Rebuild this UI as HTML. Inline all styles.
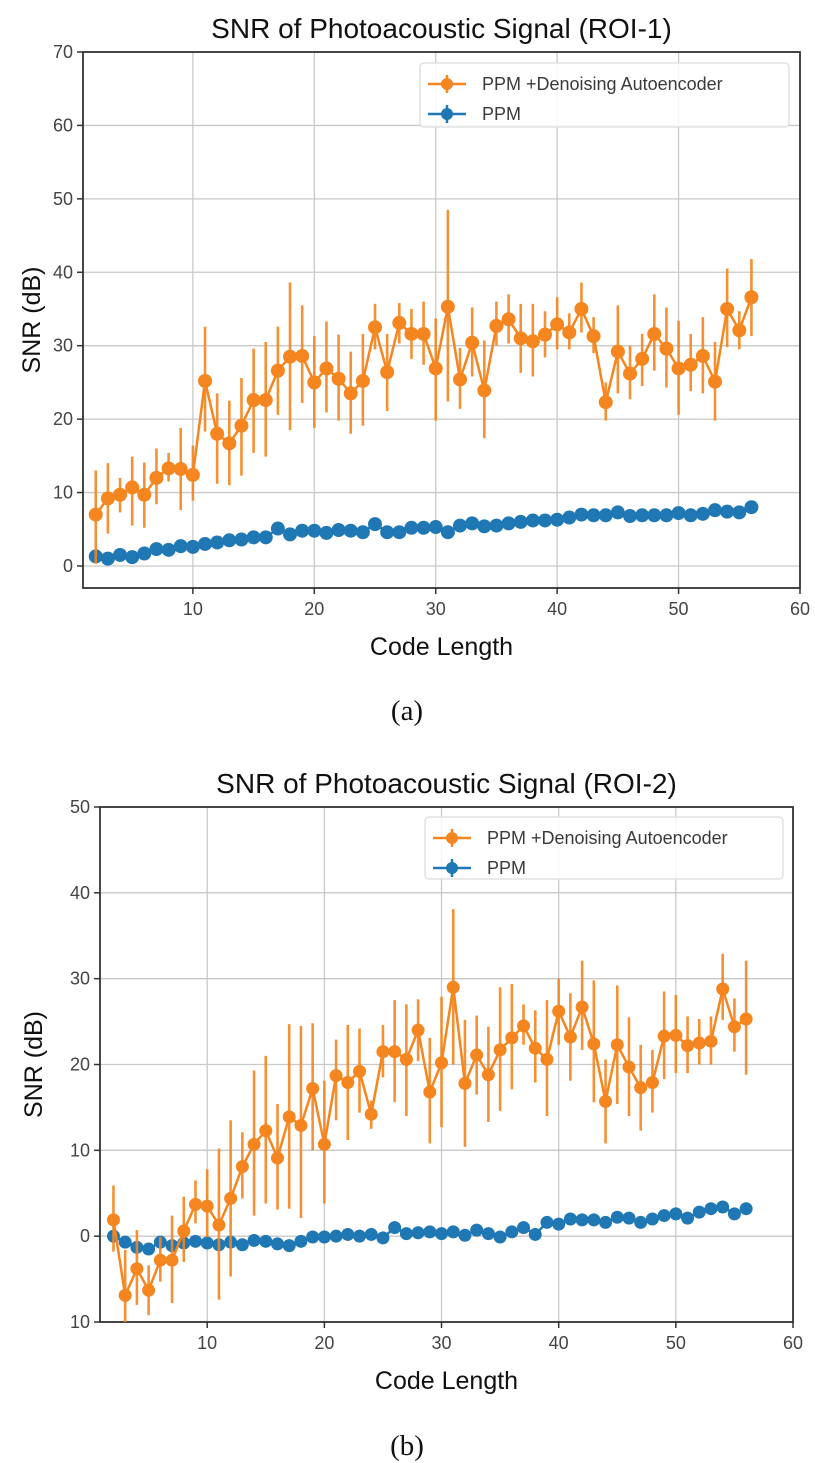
<!DOCTYPE html>
<html><head><meta charset="utf-8">
<style>
html,body{margin:0;padding:0;background:#fff;}
svg{display:block;font-family:"Liberation Sans",sans-serif;}
</style></head>
<body>
<svg id="fig" width="815" height="1463" viewBox="0 0 815 1463" xmlns="http://www.w3.org/2000/svg"></svg>
<script>
// ---------- Chart (a) data ----------
const codeLenA = [2,3,4,5,6,7,8,9,10,11,12,13,14,15,16,17,18,19,20,21,22,23,24,25,26,27,28,29,30,31,32,33,34,35,36,37,38,39,40,41,42,43,44,45,46,47,48,49,50,51,52,53,54,55,56];
const daeA = [7.0,9.2,9.7,10.7,9.7,12.0,13.3,13.2,12.4,25.2,18.0,16.7,19.1,22.6,22.6,26.6,28.5,28.6,25.0,26.9,25.5,23.5,25.2,32.5,26.4,33.1,31.6,31.6,26.9,35.3,25.4,30.4,23.9,32.7,33.6,31.0,30.6,31.5,32.9,31.8,35.0,31.3,22.3,29.2,26.2,28.2,31.6,29.6,26.9,27.4,28.6,25.1,35.0,32.1,36.6];
const daeHiA = [13,14,12,14.9,14.1,16,15.4,18.8,16.4,32.6,23.5,22.5,25.6,29.6,30.5,32.6,38.6,35.5,31.3,33.3,31.5,29.2,31.6,35.7,31.6,35.8,35,36,33.7,48.5,29.7,35.2,30.7,36,37.0,35.7,35.7,34.7,36.6,34.4,38.6,33.9,25,35.5,30,31.6,37,35.2,33.4,31.6,33.9,30.5,40.5,34.7,41.8];
const daeLoA = [0.3,4.4,7.3,5.5,5.2,8.4,11.5,7.6,8.9,18.3,11.2,11,12.3,15.4,14.9,20.6,18.5,22.2,18.8,20.9,19.8,18.0,19.1,29.5,21.1,30.3,28.2,27.4,19.8,22.4,21.4,25.8,17.4,30,30.3,26.3,25.8,28.4,29.5,29.5,31.8,29,19.8,23.5,22.7,24.5,26.6,24.3,20.6,23.8,23.5,19.8,29.8,29.5,31.3];
const ppmA = [1.3,1.0,1.5,1.2,1.7,2.3,2.2,2.7,2.6,3.0,3.2,3.5,3.6,3.9,3.9,5.1,4.3,4.8,4.8,4.5,4.9,4.8,4.6,5.7,4.6,4.6,5.2,5.2,5.3,4.6,5.5,5.8,5.4,5.5,5.8,6.0,6.2,6.2,6.3,6.6,7.0,6.9,6.9,7.3,6.8,6.9,6.9,6.9,7.2,6.9,7.1,7.6,7.4,7.3,8.0];
const yTicksA = [0,10,20,30,40,50,60,70];
const xTicksA = [10,20,30,40,50,60];

// ---------- Chart (b) data ----------
const codeLenB = [2,3,4,5,6,7,8,9,10,11,12,13,14,15,16,17,18,19,20,21,22,23,24,25,26,27,28,29,30,31,32,33,34,35,36,37,38,39,40,41,42,43,44,45,46,47,48,49,50,51,52,53,54,55,56];
const daeB = [1.9,-6.9,-3.8,-6.3,-2.8,-2.8,0.6,3.7,3.5,1.3,4.4,8.1,10.7,12.3,9.1,13.9,12.9,17.2,10.7,18.7,17.9,19.2,14.2,21.5,21.5,20.6,24.0,16.8,20.2,29.0,17.8,21.1,18.8,21.7,23.1,24.5,21.9,20.6,26.2,23.2,26.7,22.4,15.7,22.3,19.7,17.3,17.9,23.3,23.4,22.2,22.5,22.7,28.8,24.4,25.3];
const daeHiB = [5.9,-1.6,0.7,-3.4,-0.1,2.4,4.6,6.5,7.8,10.2,13.5,12.1,19.3,21,15.4,24.7,24.5,24.8,18.1,22.9,24.6,24.2,15.8,24.6,27.5,27,27.6,23.1,27.9,38.1,25.2,25.7,24.4,29,29.4,27,26.3,27.5,30,28.3,32.1,29.8,20.6,29.2,25.5,22.3,21.7,28.5,28.1,25.6,25.3,25.6,32.9,27.7,32.1];
const daeLoB = [-1.8,-10,-8,-9.2,-5.3,-7.8,-3,1.5,-0.1,-7.4,-4.7,4.4,2.4,3.8,3.1,3.2,2.1,10,3.8,13.5,11.2,14.4,12.5,18.5,15.6,14,20.4,10.8,12.7,20,10.4,16.5,13.3,14.6,17.1,22.3,17.9,14.0,22.3,18.1,21.7,15.6,10.8,15.4,14.0,12.3,14.4,18.3,19.0,19.0,20,20,25.2,21.5,18.8];
const ppmB = [0.0,-0.7,-1.3,-1.5,-0.7,-1.1,-0.8,-0.6,-0.8,-1.0,-0.7,-1.0,-0.5,-0.6,-0.9,-1.1,-0.6,-0.1,-0.1,0.0,0.2,0.0,0.2,-0.2,1.0,0.3,0.4,0.5,0.3,0.5,0.1,0.7,0.3,-0.1,0.5,1.0,0.2,1.6,1.4,2.0,1.9,1.9,1.6,2.2,2.1,1.6,2.0,2.4,2.6,2.1,2.8,3.2,3.4,2.6,3.2];
const yTicksB = [-10,0,10,20,30,40,50];
const yTickLabelsB = ["10","0","10","20","30","40","50"];
const xTicksB = [10,20,30,40,50,60];

const NS = "http://www.w3.org/2000/svg";
const svg = document.getElementById('fig');
const ORANGE = "#f5851f", BLUE = "#1f77b4";

function mk(tag, attrs, parent){
  const e = document.createElementNS(NS, tag);
  for (const k in attrs) e.setAttribute(k, attrs[k]);
  (parent||svg).appendChild(e);
  return e;
}

function drawChart(cfg){
  const g = mk('g', {});
  
  
  const sx = v => cfg.left + (v - cfg.xmin) / (cfg.xmax - cfg.xmin) * (cfg.right - cfg.left);
  const sy = v => cfg.bottom - (v - cfg.ymin) / (cfg.ymax - cfg.ymin) * (cfg.bottom - cfg.top);
  const clipId = cfg.name + '-clip';
  const cp = mk('clipPath', {id: clipId}, g);
  mk('rect', {x: cfg.left, y: cfg.top, width: cfg.right - cfg.left, height: cfg.bottom - cfg.top}, cp);
  cfg.xTicks.forEach(t => {
    const l = mk('line', {x1: sx(t), x2: sx(t), y1: cfg.top, y2: cfg.bottom, stroke: "#c9c9c9", 'stroke-width': 1.3}, g);
    
    
    const tx = mk('text', {x: sx(t), y: cfg.bottom + 27, 'text-anchor': 'middle', 'font-size': 18, fill: '#444'}, g);
    tx.textContent = t;
    
    
  });
  cfg.yTicks.forEach((t, i) => {
    const l = mk('line', {x1: cfg.left, x2: cfg.right, y1: sy(t), y2: sy(t), stroke: "#c9c9c9", 'stroke-width': 1.3}, g);
    
    
    mk('line', {x1: cfg.left - 6, x2: cfg.left, y1: sy(t), y2: sy(t), stroke: '#333', 'stroke-width': 1.5}, g);
    const tx = mk('text', {x: cfg.left - 10, y: sy(t) + 6, 'text-anchor': 'end', 'font-size': 18, fill: '#444'}, g);
    tx.textContent = cfg.yLabels ? cfg.yLabels[i] : t;
    
    
  });
  cfg.xTicks.forEach(t => mk('line', {x1: sx(t), x2: sx(t), y1: cfg.bottom, y2: cfg.bottom + 6, stroke: '#333', 'stroke-width': 1.5}, g));
  const frame = mk('rect', {x: cfg.left, y: cfg.top, width: cfg.right - cfg.left, height: cfg.bottom - cfg.top, fill: 'none', stroke: '#333', 'stroke-width': 1.8}, g);
  
  

  const dg = mk('g', {'clip-path': 'url(#' + clipId + ')'}, g);
  const bpts = cfg.x.map((xv, i) => sx(xv) + ',' + sy(cfg.ppm[i])).join(' ');
  const bl = mk('polyline', {points: bpts, fill: 'none', stroke: BLUE, 'stroke-width': 2.5}, dg);
  
  
  cfg.x.forEach((xv, i) => {
    const c = mk('circle', {cx: sx(xv), cy: sy(cfg.ppm[i]), r: cfg.r, fill: BLUE}, dg);
    
    
  });
  cfg.x.forEach((xv, i) => {
    const e = mk('line', {x1: sx(xv), x2: sx(xv), y1: sy(cfg.hi[i]), y2: sy(cfg.lo[i]), stroke: ORANGE, 'stroke-width': 2.6, opacity: 0.9}, dg);
    
    
  });
  const opts = cfg.x.map((xv, i) => sx(xv) + ',' + sy(cfg.dae[i])).join(' ');
  const ol = mk('polyline', {points: opts, fill: 'none', stroke: ORANGE, 'stroke-width': 2.5}, dg);
  
  
  cfg.x.forEach((xv, i) => {
    const c = mk('circle', {cx: sx(xv), cy: sy(cfg.dae[i]), r: cfg.r, fill: ORANGE}, dg);
    
    
  });

  const lg = mk('g', {}, g);
  
  
  const L = cfg.legend;
  mk('rect', {x: L.x, y: L.y, width: L.w, height: L.h, rx: 4, fill: '#fff', 'fill-opacity': 0.85, stroke: '#dcdcdc', 'stroke-width': 1.3}, lg);
  [[ORANGE, 'PPM +Denoising Autoencoder', 'legend-entry-dae'], [BLUE, 'PPM', 'legend-entry-ppm']].forEach((en, k) => {
    const yy = L.y + 21 + k * 30;
    const eg = mk('g', {}, lg);
    
    
    mk('line', {x1: L.x + 8, x2: L.x + 46, y1: yy, y2: yy, stroke: en[0], 'stroke-width': 2.5}, eg);
    mk('line', {x1: L.x + 27, x2: L.x + 27, y1: yy - 9, y2: yy + 9, stroke: en[0], 'stroke-width': 2.5}, eg);
    mk('circle', {cx: L.x + 27, cy: yy, r: 6, fill: en[0]}, eg);
    const t = mk('text', {x: L.x + 62, y: yy + 6, 'font-size': 18, fill: '#3a3a3a'}, eg);
    t.textContent = en[1];
  });

  const tt = mk('text', {x: (cfg.left + cfg.right) / 2, y: cfg.top - 14, 'text-anchor': 'middle', 'font-size': 28, fill: '#111'}, g);
  tt.textContent = cfg.title;
  
  
  const xl = mk('text', {x: (cfg.left + cfg.right) / 2, y: cfg.bottom + 67, 'text-anchor': 'middle', 'font-size': 25, fill: '#111'}, g);
  xl.textContent = 'Code Length';
  
  
  const yc = (cfg.top + cfg.bottom) / 2;
  const yl = mk('text', {x: 0, y: 0, 'text-anchor': 'middle', 'font-size': 25, fill: '#111', transform: 'translate(' + cfg.yTitleX + ',' + yc + ') rotate(-90)'}, g);
  yl.textContent = 'SNR (dB)';
  
  
  const cap = mk('text', {x: 407, y: cfg.capY, 'text-anchor': 'middle', 'font-size': 29, fill: '#111', 'font-family': '"Liberation Serif", serif'}, g);
  cap.textContent = cfg.caption;
  
  
}

drawChart({name: 'chart-roi-1', left: 83, right: 800, top: 52, bottom: 588, xmin: 0.95, xmax: 60, ymin: -3, ymax: 70,
  xTicks: xTicksA, yTicks: yTicksA, x: codeLenA, dae: daeA, hi: daeHiA, lo: daeLoA, ppm: ppmA, r: 7,
  legend: {x: 420, y: 63, w: 369, h: 64}, title: 'SNR of Photoacoustic Signal (ROI-1)', yTitleX: 40, capY: 720, caption: '(a)'});

drawChart({name: 'chart-roi-2', left: 100, right: 793, top: 807, bottom: 1322, xmin: 0.85, xmax: 60, ymin: -10, ymax: 50,
  xTicks: xTicksB, yTicks: yTicksB, yLabels: yTickLabelsB, x: codeLenB, dae: daeB, hi: daeHiB, lo: daeLoB, ppm: ppmB, r: 6.5,
  legend: {x: 425, y: 817, w: 358, h: 62}, title: 'SNR of Photoacoustic Signal (ROI-2)', yTitleX: 42, capY: 1455, caption: '(b)'});
</script>
</body></html>
